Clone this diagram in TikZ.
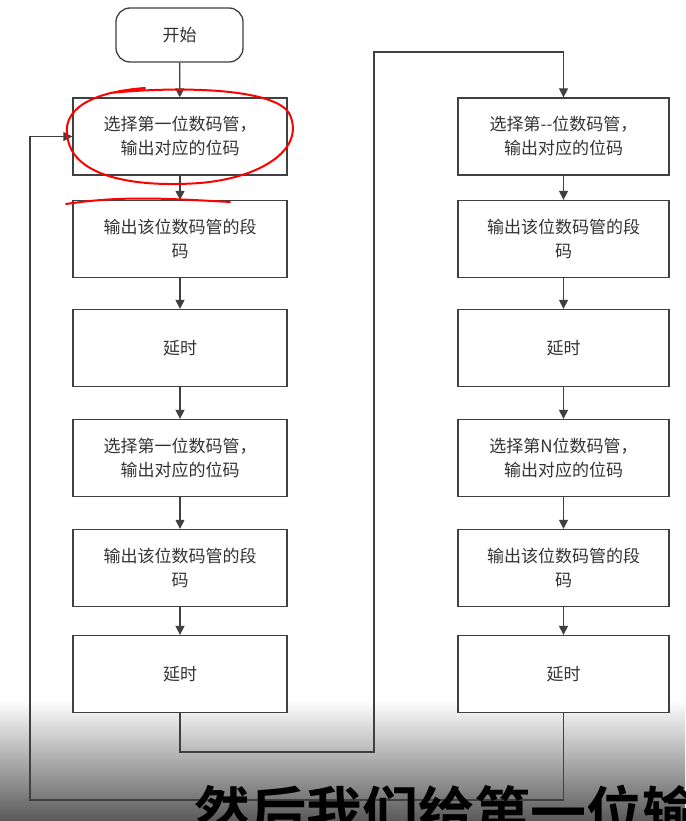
\documentclass[tikz,border=0pt]{standalone}
\usepackage{fontspec}
\newfontfamily\cjk{Noto Sans CJK SC}
\newfontfamily\cjkb{Noto Sans CJK SC Bold}
\usetikzlibrary{arrows.meta}
\begin{document}
\begin{tikzpicture}[x=1pt,y=-1pt,
  box/.style={draw=black!75,line width=1.3pt,fill=white,minimum width=214pt,minimum height=77pt,align=center,font=\cjk\fontsize{17}{24}\selectfont,text=black!80},
  rbox/.style={box,minimum width=211pt},
  flow/.style={draw=black!75,line width=1.3pt,-{Triangle[length=9pt,width=9pt]}},
  line/.style={draw=black!75,line width=1.3pt}]
\useasboundingbox (0,0) rectangle (685,821);
\clip (0,0) rectangle (685,821);
\fill[white] (0,0) rectangle (685,821);
\shade[top color=white,bottom color=black!65] (0,700) rectangle (685,821);
\node[box,rounded corners=14pt,minimum width=127pt,minimum height=54pt] (s) at (179.5,35) {开始};
\foreach \n/\y/\t in {1/136.5/{选择第一位数码管，\\输出对应的位码},2/239/{输出该位数码管的段\\码},3/348/{延时},4/458/{选择第一位数码管，\\输出对应的位码},5/568/{输出该位数码管的段\\码},6/674/{延时}}
  \node[box] (l\n) at (180,\y) {\t};
\foreach \n/\y/\t in {1/136.5/{选择第--位数码管，\\输出对应的位码},2/239/{输出该位数码管的段\\码},3/348/{延时},4/458/{选择第N位数码管，\\输出对应的位码},5/568/{输出该位数码管的段\\码},6/674/{延时}}
  \node[rbox] (r\n) at (563.5,\y) {\t};
\draw[flow] (s) -- (l1);
\foreach \a/\b in {1/2,2/3,3/4,4/5,5/6}{
  \draw[flow] (l\a) -- (l\b);
  \draw[flow] (r\a) -- (r\b);}
\coordinate (c1) at (180,752);
\coordinate (c2) at (374,752);
\coordinate (c3) at (374,52);
\coordinate (c4) at (563.5,52);
\draw[flow] (l6.south) -- (c1) -- (c2) -- (c3) -- (c4) -- (r1.north);
\coordinate (d1) at (563.5,800);
\coordinate (d2) at (30,800);
\coordinate (d3) at (30,136.5);
\draw[flow] (r6.south) -- (d1) -- (d2) -- (d3) -- (l1.west);
% red annotation
\draw[red,line width=2pt,line cap=round] (145,88) .. controls (90,92) and (60,110) .. (68,140)
  .. controls (75,175) and (130,188) .. (200,183) .. controls (260,178) and (305,150) .. (290,115)
  .. controls (278,88) and (180,86) .. (110,93);
\draw[red,line width=2pt,line cap=round] (66,204) .. controls (120,196) and (160,198) .. (230,202);
\node[font=\cjkb\fontsize{56}{56}\selectfont,anchor=west,text=black,inner sep=0pt] (sub) at (194,812) {然后我们给第一位输};
\end{tikzpicture}
\end{document}
